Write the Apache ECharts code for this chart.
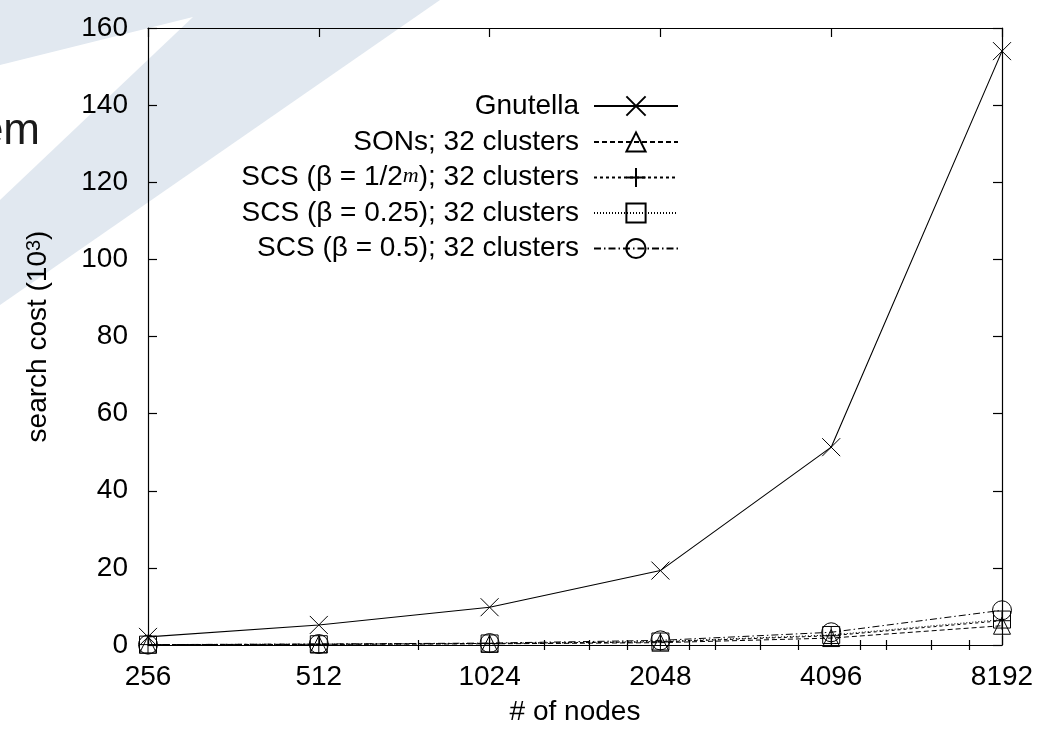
<!DOCTYPE html>
<html><head><meta charset="utf-8">
<script src="https://cdn.jsdelivr.net/npm/echarts@6/dist/echarts.min.js"></script>
<style>html,body{margin:0;padding:0;background:#fff}#c{width:1040px;height:731px}</style>
</head><body><div id="c"></div>
<script>
// ---- data ----
const nodes = [256, 512, 1024, 2048, 4096, 8192];
const gnutella = [2.1, 5.2, 9.8, 19.3, 51.3, 154];
const sons = [0.1, 0.15, 0.3, 0.6, 1.8, 5.0];
const scsM = [0.1, 0.2, 0.4, 0.8, 2.4, 6.3];
const scs025 = [0.1, 0.2, 0.4, 0.9, 2.6, 6.6];
const scs05 = [0.1, 0.25, 0.5, 1.2, 3.3, 9.0];
const seriesNames = ['Gnutella', 'SONs; 32 clusters', 'SCS (β = 1/2m); 32 clusters', 'SCS (β = 0.25); 32 clusters', 'SCS (β = 0.5); 32 clusters'];
const legendLabels = ['Gnutella', 'SONs; 32 clusters', 'SCS (β = 1/2{m|m}); 32 clusters', 'SCS (β = 0.25); 32 clusters', 'SCS (β = 0.5); 32 clusters'];
const minorTicks = [768, 1280, 1536, 1792, 2304, 2560, 3072, 3584, 4608, 5120, 6144, 7168];
const yMin = 0, yMax = 160, yStep = 20;
const xTitle = '# of nodes';
const yTitle = 'search cost (10{s|3})';

const FONT = '"Liberation Sans", Arial, sans-serif';
const chart = echarts.init(document.getElementById('c'), null, {renderer: 'canvas'});

const symX = 'path://M0,0L10,10M10,0L0,10';
const symPlus = 'path://M5,0L5,10M0,5L10,5';

function mk(name, vals, symbol, size, dash, width) {
  return {
    name, type: 'line', xAxisIndex: 0, yAxisIndex: 0,
    data: nodes.map((n, i) => [n, vals[i]]),
    symbol, symbolSize: size, showAllSymbol: true,
    lineStyle: {color: '#000', width: width, type: dash},
    itemStyle: {color: 'transparent', borderColor: '#000', borderWidth: 1},
    emphasis: {disabled: true}, silent: true, animation: false
  };
}

const series = [
  mk(seriesNames[0], gnutella, symX, 18, 'solid', 1.1),
  mk(seriesNames[1], sons, 'triangle', 17, [5, 3], 1),
  mk(seriesNames[2], scsM, symPlus, 18, [3, 3], 1),
  mk(seriesNames[3], scs025, 'rect', 17, [1, 2], 1),
  mk(seriesNames[4], scs05, 'circle', 19, [7, 3, 1.5, 3], 1)
];

const legendTops = [92, 128, 163.5, 199, 234.5];
const legends = seriesNames.map((n, i) => ({
  data: [n], right: 361, top: legendTops[i], orient: 'vertical', align: 'right',
  itemWidth: 84, itemHeight: 24, padding: 0, selectedMode: false,
  formatter: () => legendLabels[i],
  textStyle: {
    fontSize: 28, fontFamily: FONT, color: '#000', lineHeight: 24, padding: [0, 10, 0, 0],
    rich: {m: {fontSize: 22, fontStyle: 'italic', fontFamily: '"Liberation Serif", serif', verticalAlign: 'top', lineHeight: 10, color: '#000'}}
  }
}));

const common = {min: 256, max: 8192, type: 'log', logBase: 2, gridIndex: 0};
const axisLineStyle = {show: true, onZero: false, lineStyle: {color: '#000', width: 1.2}};

chart.setOption({
  backgroundColor: '#fff',
  animation: false,
  textStyle: {fontFamily: FONT},
  graphic: [
    {type: 'polygon', z: -10, silent: true, shape: {points: [[0, 0], [440, 0], [0, 305]]}, style: {fill: '#e1e8f0'}},
    {type: 'polygon', z: -9, silent: true, shape: {points: [[0, 65], [193, 17], [0, 200]]}, style: {fill: '#ffffff'}},
    {type: 'text', z: -8, silent: true, x: 40, y: 154, style: {text: 'em', font: '44px "Liberation Sans"', fill: '#1a1a1a', align: 'right', verticalAlign: 'bottom'}}
  ],
  grid: {left: 148, right: 38, top: 28, bottom: 86, outerBoundsMode: 'none', containLabel: false},
  legend: legends,
  xAxis: [
    Object.assign({}, common, {
      position: 'bottom',
      name: xTitle, nameLocation: 'middle', nameGap: 53, nameMoveOverlap: false,
      nameTextStyle: {fontSize: 28, fontFamily: FONT, color: '#000'},
      axisLine: axisLineStyle,
      axisTick: {show: true, inside: true, length: 9, lineStyle: {color: '#000', width: 1.2}},
      axisLabel: {show: true, fontSize: 28, fontFamily: FONT, color: '#000', margin: 18, formatter: v => String(Math.round(v))},
      splitLine: {show: false}, minorTick: {show: false}
    }),
    Object.assign({}, common, {
      position: 'top',
      axisLine: axisLineStyle,
      axisTick: {show: true, inside: true, length: 9, lineStyle: {color: '#000', width: 1.2}},
      axisLabel: {show: false}, splitLine: {show: false}
    }),
    Object.assign({}, common, {
      position: 'bottom',
      axisLine: {show: false},
      axisTick: {show: true, inside: true, length: 5, customValues: minorTicks, lineStyle: {color: '#000', width: 1.2}},
      axisLabel: {show: false}, splitLine: {show: false}
    }),
    Object.assign({}, common, {
      position: 'top',
      axisLine: {show: false},
      axisTick: {show: true, inside: true, length: 5, customValues: minorTicks, lineStyle: {color: '#000', width: 1.2}},
      axisLabel: {show: false}, splitLine: {show: false}
    })
  ],
  yAxis: [
    {
      type: 'value', min: yMin, max: yMax, interval: yStep, position: 'left',
      name: yTitle, nameLocation: 'middle', nameGap: 96, nameRotate: 90,
      nameTextStyle: {fontSize: 28, fontFamily: FONT, color: '#000',
        rich: {s: {fontSize: 20, fontFamily: FONT, color: '#000', verticalAlign: 'top', lineHeight: 14}}},
      axisLine: axisLineStyle,
      axisTick: {show: true, inside: true, length: 9, lineStyle: {color: '#000', width: 1.2}},
      axisLabel: {fontSize: 28, fontFamily: FONT, color: '#000', margin: 20},
      splitLine: {show: false}
    },
    {
      type: 'value', min: yMin, max: yMax, interval: yStep, position: 'right',
      axisLine: axisLineStyle,
      axisTick: {show: true, inside: true, length: 9, lineStyle: {color: '#000', width: 1.2}},
      axisLabel: {show: false}, splitLine: {show: false}
    }
  ],
  series
});
</script></body></html>
